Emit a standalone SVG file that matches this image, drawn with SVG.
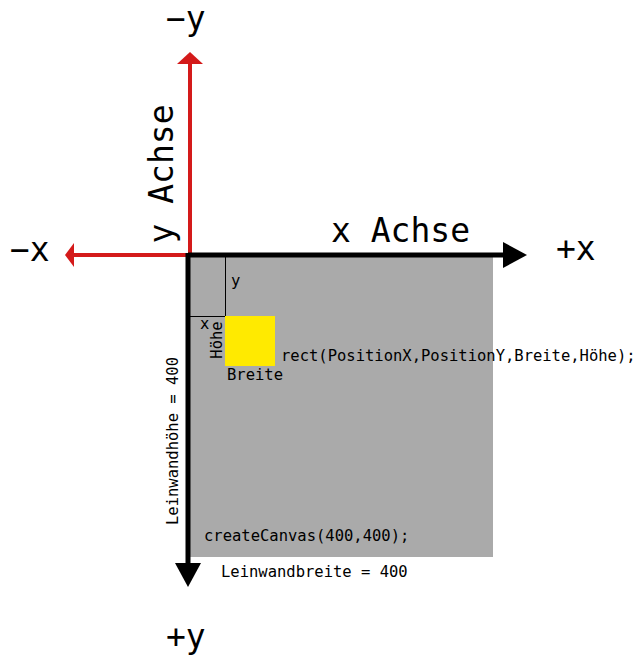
<svg xmlns="http://www.w3.org/2000/svg" width="638" height="656" viewBox="0 0 638 656">
<style>
.big{font-family:"DejaVu Sans Mono",monospace;font-size:33px;fill:#000}
.sm{font-family:"DejaVu Sans Mono",monospace;font-size:15.5px;fill:#000}
.blk{stroke:#000;stroke-width:5;fill:none}
.red{stroke:#d41a1a;stroke-width:4;fill:none}
.thin{stroke:#000;stroke-width:1;fill:none}
</style>
<rect width="638" height="656" fill="#fff"/>
<g id="canvas">
<rect x="190" y="255" width="303" height="302" fill="#aaaaaa"/>
<line class="thin" x1="225.5" y1="256" x2="225.5" y2="316"/>
<line class="thin" x1="190" y1="316.5" x2="225.5" y2="316.5"/>
<text class="sm" x="231" y="286">y</text>
<text class="sm" x="200" y="329">x</text>
<text class="sm" transform="translate(222,340) rotate(-90)" text-anchor="middle">Höhe</text>
<text class="sm" x="227" y="380">Breite</text>
<text class="sm" x="204" y="541">createCanvas(400,400);</text>
</g>
<g id="rect">
<rect x="225" y="316" width="50" height="50" fill="#ffea00"/>
</g>
<g id="connectors">
<line class="red" x1="190" y1="255" x2="190" y2="62"/>
<polygon points="190,52 203,64 177,64" fill="#d41a1a"/>
<line class="red" x1="190" y1="255" x2="73" y2="255"/>
<polygon points="65,255 74,243 74,267" fill="#d41a1a"/>
<line class="blk" x1="188" y1="255" x2="506" y2="255"/>
<polygon points="527,255 503,242 503,268" fill="#000"/>
<line class="blk" x1="188" y1="253" x2="188" y2="566"/>
<polygon points="188,587 175,563 201,563" fill="#000"/>
</g>
<g id="labels">
<text class="big" x="166" y="30">−y</text>
<text class="big" x="166" y="648">+y</text>
<text class="big" x="10" y="261">−x</text>
<text class="big" x="556" y="260">+x</text>
<text class="big" x="331" y="242">x Achse</text>
<text class="big" transform="translate(173,174) rotate(-90)" text-anchor="middle">y Achse</text>
<text class="sm" x="281" y="361">rect(PositionX,PositionY,Breite,Höhe);</text>
<text class="sm" x="221" y="577">Leinwandbreite = 400</text>
<text class="sm" transform="translate(178,441) rotate(-90)" text-anchor="middle">Leinwandhöhe = 400</text>
</g>
</svg>
